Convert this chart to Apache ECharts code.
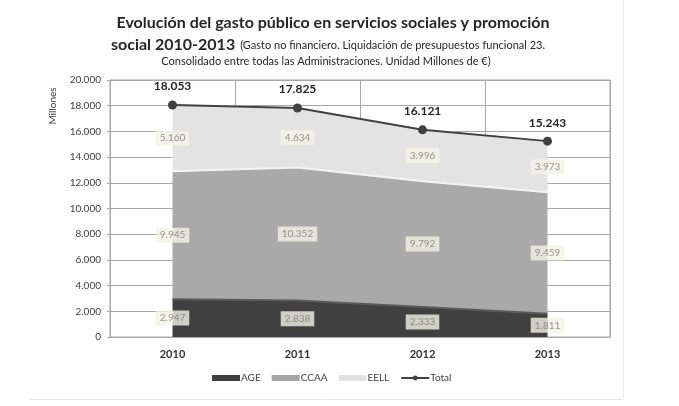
<!DOCTYPE html>
<html>
<head>
<meta charset="utf-8">
<script src="https://cdn.jsdelivr.net/npm/echarts@6/dist/echarts.min.js"></script>
<style>html,body{margin:0;padding:0;background:#fff}#c{width:679px;height:406px}</style>
</head>
<body>
<div id="c"></div>
<script>
var categories = ['2010', '2011', '2012', '2013'];
var age = [2947, 2838, 2333, 1811];
var ccaa = [9945, 10352, 9792, 9459];
var eell = [5160, 4634, 3996, 3973];
var total = [18053, 17825, 16121, 15243];
var yTicks = [0, 2000, 4000, 6000, 8000, 10000, 12000, 14000, 16000, 18000, 20000];

function fmt(v) {
  return String(v).replace(/\B(?=(\d{3})+(?!\d))/g, '.');
}

function midSeries(name, vals, bases) {
  return {
    name: name + '_lbl',
    type: 'scatter',
    symbolSize: 0,
    silent: true,
    z: 10,
    data: vals.map(function (v, i) { return { value: bases[i] + v / 2, raw: v }; }),
    label: {
      show: true,
      position: 'inside',
      formatter: function (p) { return fmt(p.data.raw); },
      color: '#7a7a7a',
      fontFamily: 'Lato',
      fontSize: 10,
      backgroundColor: '#f2f2e6',
      padding: [3, 4, 2, 4]
    }
  };
}

var zero = age.map(function () { return 0; });
var baseC = age.slice();
var baseE = age.map(function (v, i) { return v + ccaa[i]; });

var chart = echarts.init(document.getElementById('c'), null, { renderer: 'canvas' });
chart.setOption({
  animation: false,
  backgroundColor: '#fff',
  title: [
    {
      text: 'Evolución del gasto público en servicios sociales y promoción',
      left: 328, top: 10, textAlign: 'center',
      textStyle: { fontFamily: 'Lato', fontWeight: 'bold', fontSize: 16, color: '#262626' }
    },
    {
      text: '{a|social 2010-2013} {b|(Gasto no financiero. Liquidación de presupuestos funcional 23.}',
      left: 323, top: 28, textAlign: 'center',
      textStyle: {
        rich: {
          a: { fontFamily: 'Lato', fontWeight: 'bold', fontSize: 16, color: '#262626', verticalAlign: 'bottom', lineHeight: 20 },
          b: { fontFamily: 'Lato', fontWeight: 'normal', fontSize: 11, color: '#262626', verticalAlign: 'bottom', lineHeight: 20, padding: [0, 0, 2, 0] }
        }
      }
    },
    {
      text: 'Consolidado entre todas las Administraciones. Unidad Millones de €)',
      left: 321, top: 51, textAlign: 'center',
      textStyle: { fontFamily: 'Lato', fontWeight: 'normal', fontSize: 11, color: '#262626' }
    }
  ],
  graphic: [
    { type: 'text', x: 53, y: 106, rotation: Math.PI / 2,
      style: { text: 'Millones', fontFamily: 'Lato', fontSize: 10, fill: '#404040', align: 'center', verticalAlign: 'middle' } },
    { type: 'line', shape: { x1: 30, y1: 399.5, x2: 623, y2: 399.5 }, style: { stroke: '#e6e6e6', lineWidth: 1 } },
    { type: 'line', shape: { x1: 623.5, y1: 0, x2: 623.5, y2: 399 }, style: { stroke: '#ececec', lineWidth: 1 } }
  ],
  legend: {
    bottom: 18, left: 207,
    itemWidth: 28, itemHeight: 6, itemGap: 11,
    textStyle: { fontFamily: 'Lato', fontSize: 10, color: '#404040', padding: [0, 0, 0, -4] },
    data: [
      { name: 'AGE', icon: 'rect' },
      { name: 'CCAA', icon: 'rect' },
      { name: 'EELL', icon: 'rect' },
      { name: 'Total' }
    ]
  },
  grid: { left: 110, right: 69, top: 80, bottom: 69, show: true, borderColor: '#a6a6a6', borderWidth: 1 },
  xAxis: {
    type: 'category',
    data: categories,
    boundaryGap: true,
    axisLine: { show: true, lineStyle: { color: '#a6a6a6' } },
    axisTick: { show: false },
    splitLine: { show: true, lineStyle: { color: '#a6a6a6' } },
    axisLabel: { fontFamily: 'Lato', fontWeight: 'bold', fontSize: 11, color: '#333', margin: 12 }
  },
  yAxis: {
    type: 'value',
    min: yTicks[0], max: yTicks[yTicks.length - 1], interval: 2000,
    axisLine: { show: true, lineStyle: { color: '#a6a6a6' } },
    axisTick: { show: true, length: 3, lineStyle: { color: '#a6a6a6' } },
    splitLine: { show: true, lineStyle: { color: '#a6a6a6' } },
    axisLabel: { fontFamily: 'Lato', fontSize: 10, color: '#404040', margin: 9, formatter: function (v) { return fmt(v); } }
  },
  series: [
    { name: 'AGE', type: 'line', stack: 'g', data: age, symbol: 'none',
      itemStyle: { color: '#404040' },
      lineStyle: { color: '#5a5a5a', width: 2 },
      areaStyle: { color: '#404040', opacity: 1 } },
    { name: 'CCAA', type: 'line', stack: 'g', data: ccaa, symbol: 'none',
      itemStyle: { color: '#a6a6a6', borderColor: '#fff' },
      lineStyle: { color: '#f4f4f4', width: 2 },
      areaStyle: { color: '#a9a9a9', opacity: 1 } },
    { name: 'EELL', type: 'line', stack: 'g', data: eell, symbol: 'none',
      itemStyle: { color: '#e2e2e2' },
      lineStyle: { color: '#f8f8f8', width: 2 },
      areaStyle: { color: '#e3e3e3', opacity: 1 } },
    { name: 'Total', type: 'line', data: total, z: 5,
      symbol: 'circle', symbolSize: 9,
      itemStyle: { color: '#404040' },
      lineStyle: { color: '#404040', width: 2 },
      label: { show: true, position: 'top', distance: 8, formatter: function (p) { return fmt(p.value); },
        fontFamily: 'Lato', fontWeight: 'bold', fontSize: 12, color: '#262626' } },
    midSeries('AGE', age, zero),
    midSeries('CCAA', ccaa, baseC),
    midSeries('EELL', eell, baseE)
  ]
});
</script>
</body>
</html>
